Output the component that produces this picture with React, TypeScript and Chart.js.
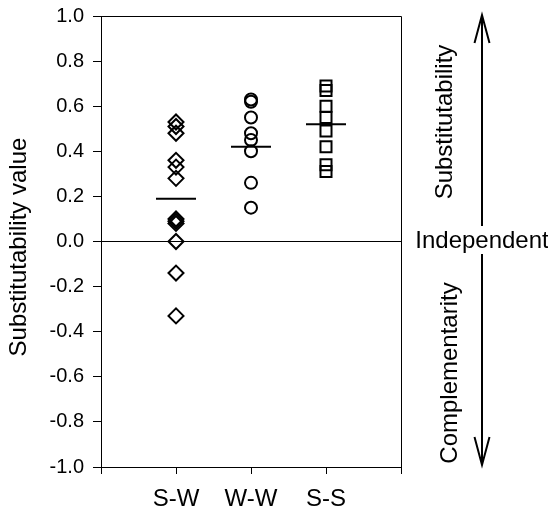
import React, { useEffect, useRef } from 'react';
import { Chart, registerables } from 'chart.js';

Chart.register(...registerables);

const FONT = '"Liberation Sans", Arial, Helvetica, sans-serif';

const categories = ['S-W', 'W-W', 'S-S'];
const swValues = [0.53, 0.51, 0.48, 0.36, 0.33, 0.28, 0.1, 0.09, 0.08, 0.0, -0.14, -0.33];
const wwValues = [0.63, 0.62, 0.55, 0.48, 0.45, 0.4, 0.26, 0.15];
const ssValues = [0.69, 0.67, 0.6, 0.55, 0.49, 0.42, 0.34, 0.31];
const groupMeans = [0.19, 0.42, 0.52];
const yTickValues = [-1.0, -0.8, -0.6, -0.4, -0.2, 0.0, 0.2, 0.4, 0.6, 0.8, 1.0];
const xTickValues = [0, 1, 2, 3, 4];
const yAxisTitle = 'Substitutability value';
const upperLabel = 'Substitutability';
const middleLabel = 'Independent';
const lowerLabel = 'Complementarity';

export default function App() {
  const ref = useRef<HTMLCanvasElement | null>(null);

  useEffect(() => {
    document.body.style.margin = '0';
    const canvas = ref.current;
    if (!canvas) return;

    const annot = {
      id: 'annot',
      afterDraw(chart: any) {
        const { ctx, chartArea: a, scales } = chart;
        const y = scales.y;
        ctx.save();
        ctx.strokeStyle = '#000';
        ctx.lineWidth = 1;
        ctx.beginPath();
        const top = Math.round(a.top) + 0.5;
        const right = Math.round(a.right) + 0.5;
        ctx.moveTo(a.left, top);
        ctx.lineTo(right, top);
        ctx.lineTo(right, a.bottom);
        ctx.stroke();

        ctx.fillStyle = '#000';
        ctx.font = `24px ${FONT}`;
        ctx.textBaseline = 'alphabetic';
        ctx.textAlign = 'center';

        ctx.save();
        ctx.translate(25.5, 247);
        ctx.rotate(-Math.PI / 2);
        ctx.fillText(yAxisTitle, 0, 0);
        ctx.restore();

        ctx.save();
        ctx.translate(452, 122);
        ctx.rotate(-Math.PI / 2);
        ctx.fillText(upperLabel, 0, 0);
        ctx.restore();

        ctx.save();
        ctx.translate(457, 373);
        ctx.rotate(-Math.PI / 2);
        ctx.fillText(lowerLabel, 0, 0);
        ctx.restore();

        ctx.fillText(middleLabel, 482, 248);

        const ax = 482;
        const tTop = y.getPixelForValue(1) - 1;
        const tBot = y.getPixelForValue(-1) - 2;
        ctx.lineWidth = 2;
        ctx.beginPath();
        ctx.moveTo(ax, tTop);
        ctx.lineTo(ax, 226);
        ctx.moveTo(ax, 254);
        ctx.lineTo(ax, tBot);
        ctx.moveTo(ax - 7.5, tTop + 28);
        ctx.lineTo(ax, tTop);
        ctx.lineTo(ax + 7.5, tTop + 28);
        ctx.moveTo(ax - 7.5, tBot - 28);
        ctx.lineTo(ax, tBot);
        ctx.lineTo(ax + 7.5, tBot - 28);
        ctx.stroke();
        ctx.restore();
      },
    };

    const toPts = (vals: number[], x: number) => vals.map((v) => ({ x, y: v }));

    const chart = new Chart(canvas, {
      type: 'scatter',
      data: {
        datasets: [
          {
            label: categories[0],
            data: toPts(swValues, 1),
            pointStyle: 'rectRot',
            pointRadius: 7.5,
            pointBorderWidth: 2,
            pointBorderColor: '#000',
            pointBackgroundColor: 'rgba(0,0,0,0)',
          },
          {
            label: categories[1],
            data: toPts(wwValues, 2),
            pointStyle: 'circle',
            pointRadius: 6,
            pointBorderWidth: 2,
            pointBorderColor: '#000',
            pointBackgroundColor: 'rgba(0,0,0,0)',
          },
          {
            label: categories[2],
            data: toPts(ssValues, 3),
            pointStyle: 'rect',
            pointRadius: 7.8,
            pointBorderWidth: 2,
            pointBorderColor: '#000',
            pointBackgroundColor: 'rgba(0,0,0,0)',
          },
          {
            label: 'mean',
            data: groupMeans.map((m, i) => ({ x: i + 1, y: m })),
            pointStyle: 'line',
            pointRadius: 20,
            pointBorderWidth: 2,
            pointBorderColor: '#000',
          },
        ],
      },
      options: {
        responsive: false,
        animation: false,
        events: [],
        layout: { autoPadding: false, padding: { left: 0, right: 147, top: 16, bottom: 0 } },
        plugins: { legend: { display: false }, tooltip: { enabled: false } },
        scales: {
          x: {
            type: 'linear',
            min: 0,
            max: 4,
            afterBuildTicks: (s: any) => {
              s.ticks = xTickValues.map((v) => ({ value: v }));
            },
            afterFit: (s: any) => {
              s.height = 47;
            },
            ticks: {
              autoSkip: false,
              maxRotation: 0,
              minRotation: 0,
              padding: 11,
              color: '#000',
              font: { size: 24, family: FONT },
              callback: (v: any) => categories[Number(v) - 1] ?? '',
            },
            grid: {
              drawOnChartArea: false,
              drawTicks: true,
              tickLength: 7,
              tickColor: '#000',
              color: '#000',
            },
            border: { display: true, color: '#000', width: 1 },
          },
          y: {
            min: -1,
            max: 1,
            afterBuildTicks: (s: any) => {
              s.ticks = yTickValues.map((v) => ({ value: v }));
            },
            afterFit: (s: any) => {
              s.width = 101;
            },
            ticks: {
              padding: 9,
              color: '#000',
              font: { size: 20, family: FONT, lineHeight: 0.6 },
              callback: (v: any) => Number(v).toFixed(1),
            },
            grid: {
              drawOnChartArea: true,
              drawTicks: true,
              tickLength: 8,
              tickColor: '#000',
              color: (c: any) =>
                c.tick && Math.abs(c.tick.value) < 1e-6 ? '#000' : 'rgba(0,0,0,0)',
            },
            border: { display: true, color: '#000', width: 1 },
          },
        },
      },
      plugins: [annot],
    });

    return () => chart.destroy();
  }, []);

  return (
    <div style={{ width: 548, height: 514 }}>
      <canvas ref={ref} width={548} height={514} style={{ display: 'block' }} />
    </div>
  );
}
